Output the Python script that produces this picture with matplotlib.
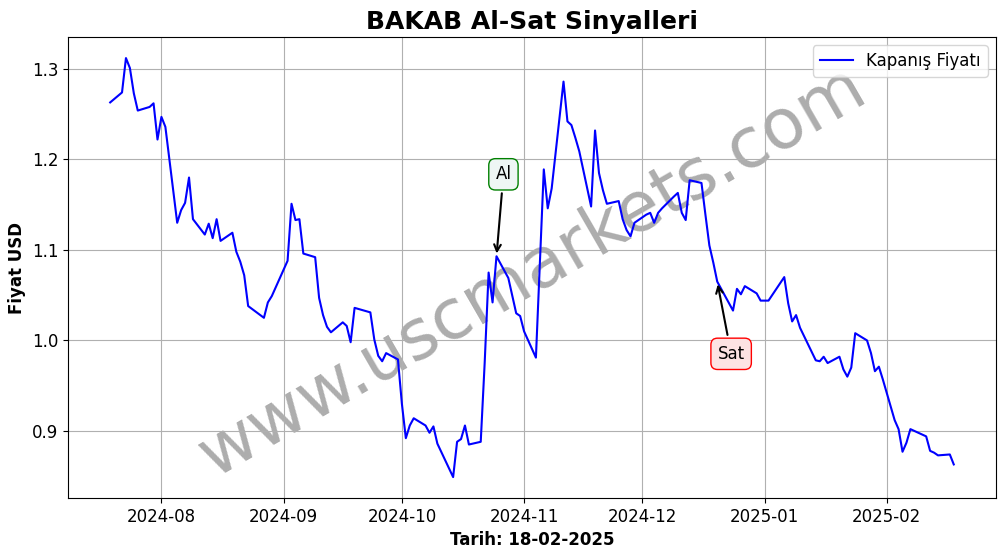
import matplotlib
matplotlib.use("Agg")
import matplotlib.pyplot as plt
import matplotlib.dates as mdates
import pandas as pd

plt.rcParams['font.size'] = 12

# closing prices
dates = ["2024-07-19", "2024-07-22", "2024-07-23", "2024-07-24", "2024-07-25", "2024-07-26",
         "2024-07-29", "2024-07-30", "2024-07-31", "2024-08-01", "2024-08-02",
         "2024-08-05", "2024-08-06", "2024-08-07", "2024-08-08", "2024-08-09",
         "2024-08-12", "2024-08-13", "2024-08-14", "2024-08-15", "2024-08-16",
         "2024-08-19", "2024-08-20", "2024-08-21", "2024-08-22", "2024-08-23",
         "2024-08-27", "2024-08-28", "2024-08-29",
         "2024-09-02", "2024-09-03", "2024-09-04", "2024-09-05", "2024-09-06",
         "2024-09-09", "2024-09-10", "2024-09-11", "2024-09-12", "2024-09-13",
         "2024-09-16", "2024-09-17", "2024-09-18", "2024-09-19",
         "2024-09-23", "2024-09-24", "2024-09-25", "2024-09-26", "2024-09-27",
         "2024-09-30", "2024-10-01", "2024-10-02", "2024-10-03", "2024-10-04",
         "2024-10-07", "2024-10-08", "2024-10-09", "2024-10-10",
         "2024-10-14", "2024-10-15", "2024-10-16", "2024-10-17", "2024-10-18",
         "2024-10-21", "2024-10-22", "2024-10-23", "2024-10-24", "2024-10-25",
         "2024-10-28", "2024-10-30", "2024-10-31", "2024-11-01",
         "2024-11-04", "2024-11-05", "2024-11-06", "2024-11-07", "2024-11-08",
         "2024-11-11", "2024-11-12", "2024-11-13", "2024-11-14", "2024-11-15",
         "2024-11-18", "2024-11-19", "2024-11-20", "2024-11-21", "2024-11-22",
         "2024-11-25", "2024-11-26", "2024-11-27", "2024-11-28", "2024-11-29",
         "2024-12-02", "2024-12-03", "2024-12-04", "2024-12-05", "2024-12-06",
         "2024-12-09", "2024-12-10", "2024-12-11", "2024-12-12", "2024-12-13",
         "2024-12-16", "2024-12-17", "2024-12-18", "2024-12-19", "2024-12-20",
         "2024-12-24", "2024-12-25", "2024-12-26", "2024-12-27",
         "2024-12-30", "2024-12-31", "2025-01-02",
         "2025-01-06", "2025-01-07", "2025-01-08", "2025-01-09", "2025-01-10",
         "2025-01-14", "2025-01-15", "2025-01-16", "2025-01-17",
         "2025-01-20", "2025-01-21", "2025-01-22", "2025-01-23", "2025-01-24",
         "2025-01-27", "2025-01-28", "2025-01-29", "2025-01-30", "2025-01-31",
         "2025-02-03", "2025-02-04", "2025-02-05", "2025-02-06", "2025-02-07",
         "2025-02-11", "2025-02-12", "2025-02-13", "2025-02-14",
         "2025-02-17", "2025-02-18"]

prices = [1.263, 1.274, 1.312, 1.301, 1.273, 1.254,
          1.258, 1.262, 1.222, 1.247, 1.236,
          1.130, 1.144, 1.152, 1.180, 1.134,
          1.117, 1.129, 1.113, 1.134, 1.110,
          1.119, 1.098, 1.087, 1.072, 1.038,
          1.025, 1.042, 1.049,
          1.088, 1.151, 1.133, 1.134, 1.096,
          1.092, 1.047, 1.028, 1.015, 1.009,
          1.020, 1.016, 0.998, 1.036,
          1.031, 1.001, 0.983, 0.977, 0.986,
          0.979, 0.930, 0.892, 0.906, 0.914,
          0.906, 0.898, 0.905, 0.886,
          0.849, 0.888, 0.891, 0.906, 0.885,
          0.888, 0.975, 1.075, 1.042, 1.093,
          1.069, 1.030, 1.027, 1.010,
          0.981, 1.085, 1.189, 1.146, 1.168,
          1.286, 1.242, 1.238, 1.224, 1.209,
          1.148, 1.232, 1.185, 1.166, 1.151,
          1.154, 1.134, 1.122, 1.115, 1.130,
          1.139, 1.141, 1.130, 1.141, 1.146,
          1.159, 1.163, 1.141, 1.133, 1.177,
          1.174, 1.139, 1.105, 1.086, 1.065,
          1.033, 1.057, 1.051, 1.060,
          1.052, 1.044, 1.044,
          1.070, 1.041, 1.021, 1.028, 1.014,
          0.978, 0.977, 0.982, 0.975,
          0.982, 0.968, 0.960, 0.970, 1.008,
          1.000, 0.986, 0.966, 0.971, 0.957,
          0.912, 0.902, 0.877, 0.887, 0.902,
          0.894, 0.878, 0.876, 0.873,
          0.874, 0.863]

buy_date, sell_date = "2024-10-25", "2024-12-20"

df = pd.DataFrame({"Close": prices}, index=pd.to_datetime(dates))

fig, ax = plt.subplots(figsize=(10.06, 5.54), dpi=100)
fig.subplots_adjust(left=0.0676, right=0.990, top=0.933, bottom=0.101)

ax.plot(df.index, df["Close"], color='blue', label='Kapanış Fiyatı', zorder=2)

# signals
bd = pd.Timestamp(buy_date)
ax.annotate('Al', xy=(bd, df.loc[bd, "Close"]), xytext=(5, 59), textcoords='offset points',
            ha='center', va='center', fontsize=12,
            bbox=dict(boxstyle='round,pad=0.4', fc='#eef6f4', ec='green'),
            arrowprops=dict(arrowstyle='->', color='black', lw=1.5))
sd = pd.Timestamp(sell_date)
ax.annotate('Sat', xy=(sd, df.loc[sd, "Close"]), xytext=(10, -52), textcoords='offset points',
            ha='center', va='center', fontsize=12,
            bbox=dict(boxstyle='round,pad=0.4', fc='#fde3e3', ec='red'),
            arrowprops=dict(arrowstyle='->', color='black', lw=1.5))

ax.text(0.5, 0.49, 'www.uscmarkets.com', transform=ax.transAxes, fontsize=50,
        color='gray', alpha=0.65, rotation=30, ha='center', va='center', zorder=1)

ax.set_title('BAKAB Al-Sat Sinyalleri', fontsize=18, fontweight='bold')
ax.set_xlabel('Tarih: 18-02-2025', fontweight='bold')
ax.set_ylabel('Fiyat USD', fontweight='bold')
ax.xaxis.set_major_locator(mdates.MonthLocator())
ax.xaxis.set_major_formatter(mdates.DateFormatter('%Y-%m'))
ax.grid(True)
ax.legend(loc='upper right')

plt.savefig('out.png', dpi=100)
